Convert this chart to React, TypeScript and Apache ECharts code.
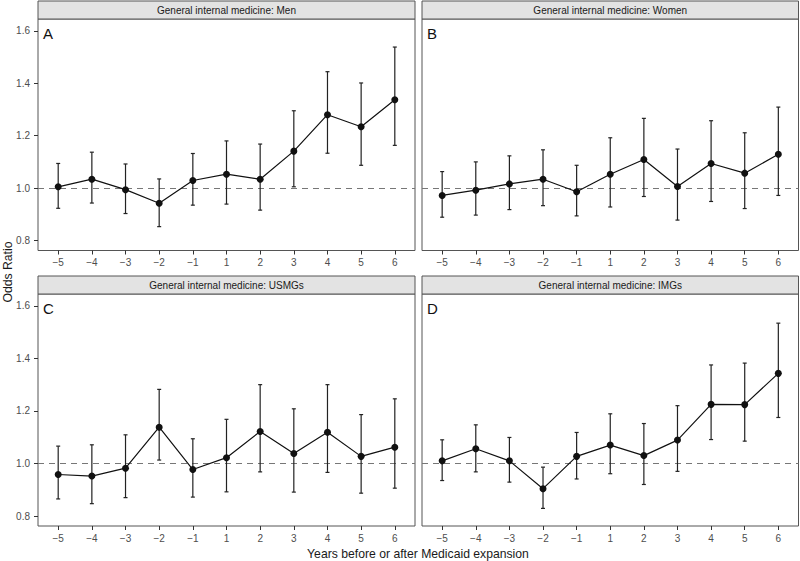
import React, { useEffect, useRef } from "react";
import * as echarts from "echarts";

const yearLabels = ["\u22125", "\u22124", "\u22123", "\u22122", "\u22121", "1", "2", "3", "4", "5", "6"];
const yTickValues = [0.8, 1.0, 1.2, 1.4, 1.6];

const menOR = [1.005, 1.034, 0.994, 0.942, 1.029, 1.053, 1.034, 1.141, 1.28, 1.234, 1.337];
const menLo = [0.923, 0.943, 0.903, 0.853, 0.935, 0.939, 0.916, 1.005, 1.133, 1.087, 1.163];
const menHi = [1.094, 1.137, 1.092, 1.035, 1.132, 1.18, 1.168, 1.295, 1.444, 1.401, 1.538];

const womenOR = [0.972, 0.992, 1.016, 1.034, 0.986, 1.053, 1.109, 1.006, 1.094, 1.057, 1.129];
const womenLo = [0.889, 0.897, 0.918, 0.933, 0.894, 0.928, 0.968, 0.878, 0.949, 0.922, 0.972];
const womenHi = [1.063, 1.1, 1.123, 1.146, 1.087, 1.192, 1.266, 1.149, 1.257, 1.211, 1.309];

const usmgOR = [0.958, 0.952, 0.982, 1.138, 0.977, 1.022, 1.122, 1.038, 1.119, 1.027, 1.062];
const usmgLo = [0.865, 0.847, 0.87, 1.013, 0.872, 0.892, 0.968, 0.891, 0.966, 0.887, 0.906];
const usmgHi = [1.066, 1.071, 1.109, 1.282, 1.094, 1.168, 1.3, 1.208, 1.3, 1.186, 1.246];

const imgOR = [1.01, 1.056, 1.01, 0.904, 1.027, 1.07, 1.03, 1.089, 1.225, 1.224, 1.343];
const imgLo = [0.935, 0.968, 0.929, 0.829, 0.941, 0.961, 0.92, 0.97, 1.091, 1.085, 1.175];
const imgHi = [1.09, 1.147, 1.099, 0.986, 1.118, 1.189, 1.152, 1.22, 1.375, 1.382, 1.534];

const panelTitles = [
  "General internal medicine: Men",
  "General internal medicine: Women",
  "General internal medicine: USMGs",
  "General internal medicine: IMGs",
];
const panelLetters = ["A", "B", "C", "D"];

const FONT = "'Liberation Sans', Arial, Helvetica, sans-serif";

export default function App() {
  const ref = useRef<HTMLDivElement>(null);

  useEffect(() => {
    if (!ref.current) return;
    const chart = echarts.init(ref.current, undefined, { renderer: "svg" });

    const panelData = [
      [menOR, menLo, menHi],
      [womenOR, womenLo, womenHi],
      [usmgOR, usmgLo, usmgHi],
      [imgOR, imgLo, imgHi],
    ];

    const boxes = [
      { l: 38, r: 415, t: 19, b: 250.5 },
      { l: 422, r: 798.5, t: 19, b: 250.5 },
      { l: 38, r: 415, t: 294, b: 526 },
      { l: 422, r: 798.5, t: 294, b: 526 },
    ];
    const stripH = 18;

    const grids = boxes.map((b) => ({
      left: b.l,
      top: b.t,
      width: b.r - b.l,
      height: b.b - b.t,
      show: true,
      borderColor: "#555",
      borderWidth: 1,
      backgroundColor: "transparent",
      containLabel: false,
    }));

    const xAxes = boxes.map((_, i) => ({
      type: "value",
      gridIndex: i,
      position: "bottom",
      min: -0.6,
      max: 10.6,
      axisLine: { show: false, onZero: false },
      splitLine: { show: false },
      axisTick: {
        show: true,
        length: 4,
        lineStyle: { color: "#333", width: 1 },
        customValues: yearLabels.map((_, k) => k),
      },
      axisLabel: {
        show: true,
        margin: 7,
        color: "#4d4d4d",
        fontSize: 10,
        fontFamily: FONT,
        customValues: yearLabels.map((_, k) => k),
        formatter: (v: number) => yearLabels[Math.round(v)] ?? "",
      },
    }));

    const yAxes = boxes.map((_, i) => ({
      type: "value",
      gridIndex: i,
      position: "left",
      min: 0.762,
      max: 1.645,
      axisLine: { show: false, onZero: false },
      splitLine: { show: false },
      axisTick: {
        show: i % 2 === 0,
        length: 4,
        lineStyle: { color: "#333", width: 1 },
        customValues: yTickValues,
      },
      axisLabel: {
        show: i % 2 === 0,
        margin: 8,
        color: "#4d4d4d",
        fontSize: 10,
        fontFamily: FONT,
        customValues: yTickValues,
        formatter: (v: number) => v.toFixed(1),
      },
    }));

    const series: any[] = [];
    panelData.forEach(([or, lo, hi], i) => {
      series.push({
        type: "custom",
        xAxisIndex: i,
        yAxisIndex: i,
        data: or.map((_, k) => [k, lo[k], hi[k]]),
        encode: { x: 0, y: [1, 2] },
        renderItem: (_p: any, api: any) => {
          const x = api.value(0);
          const a = api.coord([x, api.value(1)]);
          const b = api.coord([x, api.value(2)]);
          const cw = 2;
          const st = { stroke: "#222", lineWidth: 1.2 };
          return {
            type: "group",
            children: [
              { type: "line", shape: { x1: a[0], y1: a[1], x2: b[0], y2: b[1] }, style: st },
              { type: "line", shape: { x1: a[0] - cw, y1: a[1], x2: a[0] + cw, y2: a[1] }, style: st },
              { type: "line", shape: { x1: b[0] - cw, y1: b[1], x2: b[0] + cw, y2: b[1] }, style: st },
            ],
          };
        },
        z: 3,
        silent: true,
      });
      series.push({
        type: "line",
        xAxisIndex: i,
        yAxisIndex: i,
        data: or.map((v, k) => [k, v]),
        symbol: "circle",
        symbolSize: 7,
        itemStyle: { color: "#111" },
        lineStyle: { color: "#111", width: 1.2 },
        z: 4,
        silent: true,
        markLine: {
          silent: true,
          symbol: ["none", "none"],
          label: { show: false },
          lineStyle: { color: "#777", width: 1, type: [6, 5] },
          data: [{ yAxis: 1.0 }],
          z: 2,
        },
      });
    });

    const graphics: any[] = [];
    boxes.forEach((b, i) => {
      graphics.push({
        type: "rect",
        shape: { x: b.l, y: b.t - stripH, width: b.r - b.l, height: stripH },
        style: { fill: "#e3e3e3", stroke: "#555", lineWidth: 1 },
        z: 1,
      });
      graphics.push({
        type: "text",
        x: (b.l + b.r) / 2,
        y: b.t - stripH / 2,
        style: {
          text: panelTitles[i],
          fill: "#1a1a1a",
          fontSize: 10,
          fontFamily: FONT,
          align: "center",
          verticalAlign: "middle",
        },
        z: 2,
      });
      graphics.push({
        type: "text",
        x: b.l + 5,
        y: b.t + 14,
        style: {
          text: panelLetters[i],
          fill: "#111",
          fontSize: 15,
          fontFamily: FONT,
          align: "left",
          verticalAlign: "middle",
        },
        z: 5,
      });
    });
    graphics.push({
      type: "text",
      x: 418,
      y: 554,
      style: {
        text: "Years before or after Medicaid expansion",
        fill: "#1a1a1a",
        fontSize: 12.2,
        fontFamily: FONT,
        align: "center",
        verticalAlign: "middle",
      },
    });
    graphics.push({
      type: "text",
      x: 8,
      y: 272,
      rotation: Math.PI / 2,
      style: {
        text: "Odds Ratio",
        fill: "#1a1a1a",
        fontSize: 12.2,
        fontFamily: FONT,
        align: "center",
        verticalAlign: "middle",
      },
    });

    chart.setOption({
      animation: false,
      backgroundColor: "#fff",
      grid: grids,
      xAxis: xAxes,
      yAxis: yAxes,
      series,
      graphic: graphics,
    });

    return () => chart.dispose();
  }, []);

  return (
    <div
      ref={ref}
      style={{ position: "absolute", left: 0, top: 0, width: 800, height: 561 }}
    />
  );
}
